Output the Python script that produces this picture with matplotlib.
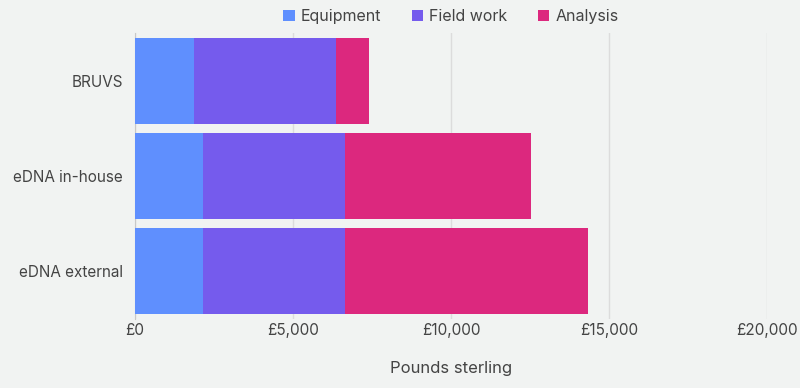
import matplotlib.pyplot as plt
from matplotlib.ticker import FuncFormatter

plt.rcParams['font.family'] = ['Inter', 'DejaVu Sans']

methods = ["BRUVS", "eDNA in-house", "eDNA external"]
equipment = [1880, 2160, 2160]
field_work = [4480, 4490, 4490]
analysis = [1040, 5880, 7700]

series = [("Equipment", equipment, "#5f8ffe"),
          ("Field work", field_work, "#755bed"),
          ("Analysis", analysis, "#dc287e")]

bg = "#f1f3f2"
fig = plt.figure(figsize=(8, 3.88), dpi=100, facecolor=bg)
ax = fig.add_axes([135 / 800, 1 - 318.5 / 388, (767 - 135) / 800, 285 / 388])
ax.set_facecolor(bg)

left = [0] * len(methods)
for name, vals, col in series:
    ax.barh(methods, vals, left=left, height=0.9, color=col, label=name, zorder=3)
    left = [a + b for a, b in zip(left, vals)]

ax.set_ylim(2.5, -0.5)
ax.set_xlim(0, 20000)
ax.set_xticks([0, 5000, 10000, 15000, 20000])
ax.xaxis.set_major_formatter(FuncFormatter(lambda v, p: f"£{v:,.0f}"))
ax.grid(axis="x", color="#dcdcdc", linewidth=1, zorder=0)
for s in ["top", "right", "bottom"]:
    ax.spines[s].set_visible(False)
ax.spines["left"].set_color("#c8c8c8")
ax.tick_params(axis="both", length=0, labelsize=11, colors="#444444")
ax.tick_params(axis="y", pad=8.5)
ax.tick_params(axis="x", pad=3)
ax.set_xlabel("Pounds sterling", fontsize=12, color="#444444", labelpad=17)

ax.legend(loc="lower center", bbox_to_anchor=(0.5, 1.0), ncol=3, frameon=False,
          fontsize=11.5, handlelength=0.7, handleheight=0.7, columnspacing=1.9,
          handletextpad=0.4, labelcolor="#444444", borderaxespad=0.2)

fig.savefig("out.png", dpi=100, facecolor=bg)
